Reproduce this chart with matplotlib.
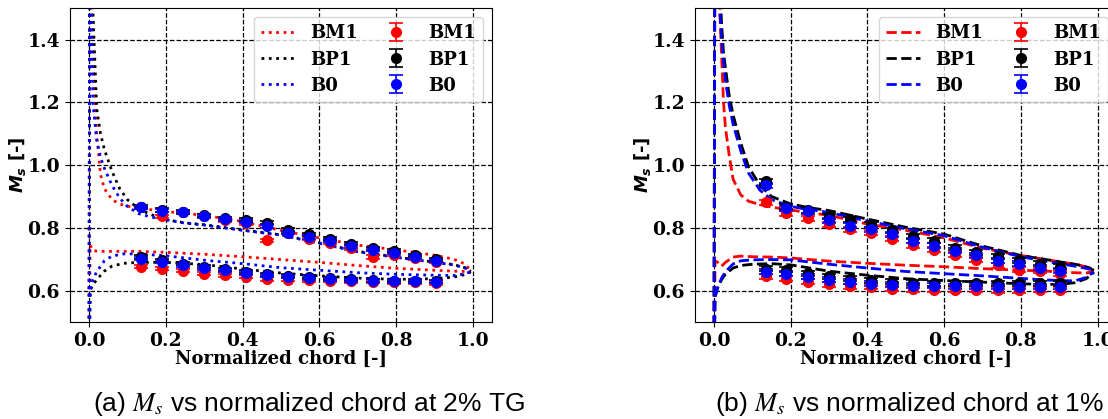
import matplotlib

matplotlib.use("Agg")
import matplotlib.pyplot as plt

# ---- shared -------------------------------------------------------------
CASES = ["BM1", "BP1", "B0"]
COLORS = {"BM1": "red", "BP1": "black", "B0": "blue"}

# measurement stations (normalized chord)
x_exp = [0.135, 0.189, 0.244, 0.299, 0.354, 0.409, 0.464, 0.519,
         0.574, 0.629, 0.684, 0.739, 0.794, 0.849, 0.903]

# ---- (a) 2% TG ----------------------------------------------------------
a_x_ps = [0.0, 0.003, 0.01, 0.02, 0.04, 0.06, 0.09, 0.13, 0.2, 0.3, 0.4,
          0.5, 0.6, 0.7, 0.8, 0.9, 0.95, 0.98, 0.995]
a_ps = {
    "BM1": [0.3, 0.745, 0.728, 0.726, 0.725, 0.725, 0.725, 0.725, 0.722, 0.716,
            0.708, 0.699, 0.690, 0.680, 0.671, 0.665, 0.662, 0.661, 0.660],
    "BP1": [0.3, 0.600, 0.618, 0.635, 0.662, 0.678, 0.687, 0.690, 0.690, 0.683,
            0.669, 0.656, 0.647, 0.640, 0.636, 0.638, 0.643, 0.651, 0.660],
    "B0": [0.3, 0.600, 0.635, 0.660, 0.695, 0.710, 0.717, 0.717, 0.711, 0.697,
           0.686, 0.673, 0.665, 0.657, 0.652, 0.649, 0.648, 0.653, 0.661],
}
a_x_ss = [0.0, 0.002, 0.005, 0.01, 0.02, 0.03, 0.04, 0.06, 0.08, 0.1, 0.13,
          0.16, 0.2, 0.25, 0.3, 0.4, 0.5, 0.6, 0.7, 0.8, 0.9, 0.95, 0.98, 0.995]
a_ss = {
    "BM1": [0.3, 1.9, 1.6, 1.35, 1.10, 0.97, 0.925, 0.890, 0.876, 0.869, 0.864,
            0.858, 0.852, 0.846, 0.840, 0.820, 0.792, 0.768, 0.745, 0.730,
            0.713, 0.700, 0.685, 0.662],
    "BP1": [0.3, 1.9, 1.7, 1.50, 1.18, 1.10, 1.05, 0.980, 0.925, 0.890, 0.860,
            0.843, 0.826, 0.816, 0.810, 0.793, 0.778, 0.752, 0.725, 0.707,
            0.691, 0.683, 0.673, 0.661],
    "B0": [0.3, 1.9, 1.6, 1.20, 1.08, 1.025, 0.99, 0.935, 0.895, 0.868, 0.845,
           0.835, 0.826, 0.815, 0.809, 0.792, 0.777, 0.751, 0.724, 0.706,
           0.690, 0.682, 0.672, 0.661],
}
a_exp_ss = {
    "BM1": [0.865, 0.837, 0.849, 0.838, 0.825, 0.815, 0.761, 0.785, 0.766,
            0.752, 0.736, 0.707, 0.715, 0.704, 0.692],
    "BP1": [0.868, 0.857, 0.852, 0.840, 0.830, 0.826, 0.816, 0.793, 0.780,
            0.765, 0.750, 0.735, 0.727, 0.713, 0.700],
    "B0": [0.866, 0.854, 0.849, 0.837, 0.827, 0.819, 0.805, 0.784, 0.771,
           0.759, 0.742, 0.731, 0.721, 0.707, 0.695],
}
a_exp_ps = {
    "BM1": [0.676, 0.670, 0.663, 0.654, 0.649, 0.644, 0.637, 0.635, 0.633,
            0.631, 0.630, 0.628, 0.627, 0.627, 0.624],
    "BP1": [0.707, 0.697, 0.686, 0.676, 0.668, 0.660, 0.652, 0.647, 0.644,
            0.639, 0.636, 0.633, 0.632, 0.632, 0.630],
    "B0": [0.702, 0.692, 0.681, 0.672, 0.665, 0.656, 0.649, 0.644, 0.640,
           0.636, 0.633, 0.631, 0.630, 0.630, 0.628],
}

# ---- (b) 1% TG ----------------------------------------------------------
b_x_ps = [0.0, 0.003, 0.01, 0.02, 0.03, 0.05, 0.07, 0.1, 0.15, 0.2, 0.3,
          0.4, 0.5, 0.6, 0.7, 0.8, 0.85, 0.9, 0.94, 0.97, 0.99]
b_ps = {
    "BM1": [0.3, 0.695, 0.690, 0.678, 0.690, 0.707, 0.710, 0.708, 0.707, 0.704,
            0.694, 0.687, 0.681, 0.676, 0.670, 0.665, 0.663, 0.660, 0.657,
            0.656, 0.662],
    "BP1": [0.3, 0.580, 0.610, 0.635, 0.652, 0.672, 0.680, 0.684, 0.686, 0.682,
            0.662, 0.649, 0.638, 0.632, 0.627, 0.622, 0.620, 0.620, 0.625,
            0.638, 0.658],
    "B0": [0.3, 0.580, 0.610, 0.640, 0.660, 0.685, 0.695, 0.698, 0.699, 0.698,
           0.684, 0.672, 0.661, 0.654, 0.647, 0.639, 0.635, 0.632, 0.631,
           0.642, 0.660],
}
b_x_ss = [0.0, 0.003, 0.008, 0.015, 0.02, 0.025, 0.03, 0.04, 0.05, 0.07, 0.09,
          0.12, 0.15, 0.2, 0.25, 0.3, 0.4, 0.5, 0.6, 0.7, 0.8, 0.9, 0.95,
          0.98, 0.99]
b_ss = {
    "BM1": [0.3, 2.0, 1.75, 1.50, 1.35, 1.20, 1.12, 1.03, 0.955, 0.905, 0.885,
            0.874, 0.866, 0.857, 0.848, 0.840, 0.812, 0.792, 0.768, 0.735,
            0.712, 0.692, 0.682, 0.672, 0.665],
    "BP1": [0.3, 2.0, 1.80, 1.60, 1.45, 1.36, 1.31, 1.22, 1.16, 1.07, 0.995,
            0.935, 0.900, 0.876, 0.864, 0.855, 0.828, 0.802, 0.780, 0.742,
            0.712, 0.692, 0.682, 0.672, 0.662],
    "B0": [0.3, 2.0, 1.70, 1.50, 1.40, 1.33, 1.27, 1.19, 1.13, 1.045, 0.975,
           0.920, 0.890, 0.868, 0.858, 0.849, 0.822, 0.797, 0.775, 0.738,
           0.708, 0.686, 0.676, 0.668, 0.660],
}
b_exp_ss = {
    "BM1": [0.881, 0.846, 0.830, 0.812, 0.795, 0.784, 0.766, 0.745, 0.731,
            0.715, 0.699, 0.681, 0.667, 0.663, 0.654],
    "BP1": [0.949, 0.867, 0.856, 0.837, 0.827, 0.812, 0.793, 0.773, 0.759,
            0.737, 0.723, 0.710, 0.697, 0.686, 0.676],
    "B0": [0.935, 0.862, 0.853, 0.824, 0.806, 0.795, 0.779, 0.759, 0.743,
           0.727, 0.713, 0.695, 0.686, 0.673, 0.663],
}
b_exp_ps = {
    "BM1": [0.646, 0.638, 0.628, 0.620, 0.614, 0.612, 0.606, 0.604, 0.603,
            0.603, 0.603, 0.602, 0.602, 0.603, 0.603],
    "BP1": [0.670, 0.667, 0.656, 0.646, 0.638, 0.633, 0.628, 0.625, 0.624,
            0.624, 0.624, 0.623, 0.623, 0.624, 0.624],
    "B0": [0.660, 0.654, 0.644, 0.635, 0.628, 0.622, 0.619, 0.616, 0.615,
           0.614, 0.614, 0.612, 0.612, 0.613, 0.613],
}

x_ticks = [0.0, 0.2, 0.4, 0.6, 0.8, 1.0]
y_ticks = [0.6, 0.8, 1.0, 1.2, 1.4]

plt.rcParams["mathtext.fontset"] = "custom"
plt.rcParams["mathtext.it"] = "DejaVu Sans:bold:italic"
plt.rcParams["mathtext.rm"] = "DejaVu Sans:bold"

SERIF_B = {"family": "DejaVu Serif", "weight": "bold"}


def panel(ax, x_ps, ps, x_ss, ss, exp_ps, exp_ss, ls, yerr):
    handles = []
    for c in CASES:
        (ln,) = ax.plot(x_ps, ps[c], ls=ls, color=COLORS[c], lw=2, label=c)
        ax.plot(x_ss, ss[c], ls=ls, color=COLORS[c], lw=2)
        handles.append(ln)
    for c in CASES:
        eb = ax.errorbar(x_exp, exp_ss[c], yerr=yerr, fmt="o", color=COLORS[c],
                         ms=7, capsize=5, elinewidth=1.2, capthick=1.2, label=c)
        ax.errorbar(x_exp, exp_ps[c], yerr=yerr, fmt="o", color=COLORS[c],
                    ms=7, capsize=5, elinewidth=1.2, capthick=1.2)
        handles.append(eb)

    ax.set_xlim(-0.05, 1.05)
    ax.set_ylim(0.5, 1.5)
    ax.set_xticks(x_ticks)
    ax.set_yticks(y_ticks)
    ax.set_xticklabels([f"{t:.1f}" for t in x_ticks], fontdict=SERIF_B, fontsize=13.5)
    ax.set_yticklabels([f"{t:.1f}" for t in y_ticks], fontdict=SERIF_B, fontsize=13.5)
    ax.set_xlabel("Normalized chord [-]", fontdict=SERIF_B, fontsize=13, labelpad=0)
    ax.set_ylabel(r"$M_s$ [-]", family="DejaVu Sans", weight="bold", fontsize=13)
    ax.yaxis.set_label_coords(-0.098, 0.5)
    ax.grid(True, ls="--", color="black", lw=0.9)
    ax.legend(handles=handles, ncol=2, loc="upper right", handlelength=1.9,
              columnspacing=1.2, labelspacing=0.45,
              prop={"family": "DejaVu Serif", "weight": "bold", "size": 13})


fig = plt.figure(figsize=(11.08, 4.19), dpi=100)
ax_a = fig.add_axes([0.063, 0.2315, 0.381, 0.749])
ax_b = fig.add_axes([0.627, 0.2315, 0.381, 0.749])

panel(ax_a, a_x_ps, a_ps, a_x_ss, a_ss, a_exp_ps, a_exp_ss, ":", 0.005)
panel(ax_b, b_x_ps, b_ps, b_x_ss, b_ss, b_exp_ps, b_exp_ss, "--", 0.008)

fig.text(0.279, 0.036, r"(a) $M_s$ vs normalized chord at 2% TG", ha="center",
         va="center", family="Liberation Sans", fontsize=19, math_fontfamily="stix")
fig.text(0.840, 0.036, r"(b) $M_s$ vs normalized chord at 1% TG", ha="center",
         va="center", family="Liberation Sans", fontsize=19, math_fontfamily="stix")

fig.savefig("out.png", dpi=100)
